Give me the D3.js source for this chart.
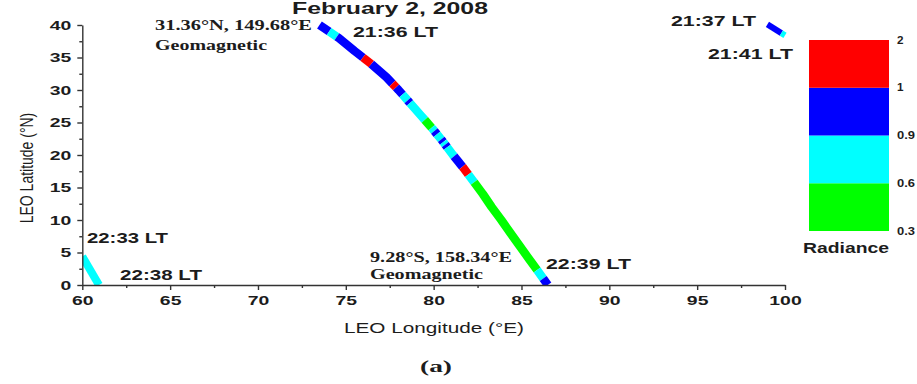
<!DOCTYPE html>
<html>
<head>
<meta charset="utf-8">
<script src="https://cdn.jsdelivr.net/npm/d3@7"></script>
<style>
  body { margin: 0; background: #fff; }
  svg { display: block; }
</style>
</head>
<body>
<svg id="chart" width="917" height="384"></svg>
<script>
// Main pass ground track: latitude (°N) and longitude (°E)
const trackLat = [40, 38, 36, 34, 32, 30, 28, 26, 24, 22, 20, 18, 16, 14, 12, 10, 8, 6, 4, 2, 0];
const trackLon = [73.5, 74.6, 75.5, 76.45, 77.3, 78.0, 78.65, 79.3, 79.95, 80.55, 81.1, 81.7, 82.25, 82.8, 83.3, 83.85, 84.37, 84.9, 85.43, 85.97, 86.5];

// Radiance along the main pass, one entry per latitude span
const segFrom = [40, 39.0, 38.2, 35.0, 34.0, 31.0, 30.4, 29.3, 28.4, 28.0, 25.4, 24.2, 23.7, 23.2, 22.4, 22.0, 21.6, 21.2, 19.8, 18.2, 17.0, 15.8, 2.3, 1.0];
const segTo   = [39.0, 38.2, 35.0, 34.0, 31.0, 30.4, 29.3, 28.4, 28.0, 25.4, 24.2, 23.7, 23.2, 22.4, 22.0, 21.6, 21.2, 19.8, 18.2, 17.0, 15.8, 2.3, 1.0, 0];
const segRad  = [0.95, 0.75, 0.95, 1.3, 0.95, 1.1, 0.95, 0.75, 0.95, 0.75, 0.45, 0.75, 0.95, 0.75, 0.95, 0.75, 0.95, 0.75, 0.95, 1.2, 0.75, 0.45, 0.75, 0.95];

// Short pass at the north-east corner
const eastLat = [40.1, 38.4];
const eastLon = [99.0, 100.0];
const eastFrom = [40.1, 38.75];
const eastTo   = [38.75, 38.4];
const eastRad  = [0.95, 0.75];

// Short pass at the south-west corner
const westLat = [4.4, 0];
const westLon = [60.0, 60.95];
const westFrom = [4.4];
const westTo   = [0];
const westRad  = [0.75];

// Axis ticks
const xTicks = [60, 65, 70, 75, 80, 85, 90, 95, 100];
const xMinor = [62.5, 67.5, 72.5, 77.5, 82.5, 87.5, 92.5, 97.5];
const yTicks = [0, 5, 10, 15, 20, 25, 30, 35, 40];
const yMinor = [2.5, 7.5, 12.5, 17.5, 22.5, 27.5, 32.5, 37.5];

// Colour classes of the radiance scale
const radBreaks = [0.3, 0.6, 0.9, 1, 2];
const radLabels = ["0.3", "0.6", "0.9", "1", "2"];
const radColors = ["#00ff00", "#00ffff", "#0000ff", "#ff0000"];

const svg = d3.select("#chart");
const x = d3.scaleLinear().domain([60, 100]).range([82.3, 785]);
const y = d3.scaleLinear().domain([0, 40]).range([285, 25]);
const color = d3.scaleThreshold().domain([0.6, 0.9, 1]).range(radColors);

const SANS = '"Liberation Sans", Arial, sans-serif';
const SERIF = '"Liberation Serif", "Times New Roman", serif';
const INK = "#1c1c1c";

function label(px, py, str, o) {
  const t = svg.append("text")
    .attr("x", px).attr("y", py)
    .attr("font-family", o.serif ? SERIF : SANS)
    .attr("font-weight", o.weight || "bold")
    .attr("font-size", o.size)
    .attr("fill", o.fill || INK)
    .attr("text-anchor", o.anchor || "start")
    .text(str);
  if (o.width) t.attr("textLength", o.width).attr("lengthAdjust", "spacingAndGlyphs");
  return t;
}

// Plot clip (cuts tracks at the axes)
svg.append("defs").append("clipPath").attr("id", "plotClip")
  .append("rect").attr("x", x(60)).attr("y", 0)
  .attr("width", x(100) - x(60) + 10).attr("height", y(0));

const tracks = svg.append("g").attr("clip-path", "url(#plotClip)");
const line = d3.line().x(d => x(d[0])).y(d => y(d[1]));

function drawPass(lats, lons, from, to, rad, width) {
  const lonAt = d3.scaleLinear().domain(lats).range(lons);
  from.forEach((a, i) => {
    const b = to[i];
    const lo = Math.min(a, b), hi = Math.max(a, b);
    const inner = lats.filter(l => l < hi && l > lo);
    const pts = [a, ...inner, b].map(l => [lonAt(l), l]);
    tracks.append("path")
      .attr("d", line(pts))
      .attr("fill", "none")
      .attr("stroke", color(rad[i]))
      .attr("stroke-width", width)
      .attr("stroke-linecap", "butt")
      .attr("stroke-linejoin", "round");
  });
}

drawPass(trackLat, trackLon, segFrom, segTo, segRad, 8.5);
drawPass(eastLat, eastLon, eastFrom, eastTo, eastRad, 6);
drawPass(westLat, westLon, westFrom, westTo, westRad, 8);

// Axes
const AX = "#333";
const gx = svg.append("g").attr("transform", `translate(0,${y(0)})`)
  .call(d3.axisBottom(x).tickValues(xTicks).tickSize(5).tickSizeOuter(0).tickPadding(5));
const gxm = svg.append("g").attr("transform", `translate(0,${y(0)})`)
  .call(d3.axisBottom(x).tickValues(xMinor).tickSize(3).tickFormat(""));
const gy = svg.append("g").attr("transform", `translate(${x(60)},0)`)
  .call(d3.axisLeft(y).tickValues(yTicks).tickSize(5).tickSizeOuter(0).tickPadding(6));
const gym = svg.append("g").attr("transform", `translate(${x(60)},0)`)
  .call(d3.axisLeft(y).tickValues(yMinor).tickSize(3).tickFormat(""));

[gxm, gym].forEach(g => g.select(".domain").remove());
[gx, gxm, gy, gym].forEach(g => {
  g.selectAll("path, line").attr("stroke", AX).attr("stroke-width", 1.4);
  g.selectAll("text")
    .attr("font-family", SANS).attr("font-weight", "bold")
    .attr("font-size", 13.5).attr("fill", INK)
    .each(function () {
      const s = d3.select(this).text();
      if (s) d3.select(this).attr("textLength", s.length * 10.8).attr("lengthAdjust", "spacingAndGlyphs");
    });
});

// Axis titles
label(434, 333, "LEO Longitude (°E)", { size: 14, weight: "normal", anchor: "middle", width: 180 });
svg.append("text")
  .attr("transform", "translate(33,168) scale(1.3,1) rotate(-90)")
  .attr("font-family", SANS).attr("font-size", 14).attr("fill", INK)
  .attr("text-anchor", "middle")
  .text("LEO Latitude (°N)");

// Title and panel letter
label(292, 14, "February 2, 2008", { size: 17, width: 196 });
label(436, 372, "(a)", { size: 16, serif: true, anchor: "middle", width: 32 });

// Local-time annotations
label(353, 37, "21:36 LT", { size: 15, width: 85 });
label(671, 26, "21:37 LT", { size: 15, width: 85 });
label(708, 59, "21:41 LT", { size: 15, width: 85 });
label(87, 243, "22:33 LT", { size: 15, width: 81 });
label(120, 280, "22:38 LT", { size: 15, width: 82 });
label(546, 269, "22:39 LT", { size: 15, width: 85 });

// Geomagnetic coordinate notes
label(155, 30, "31.36°N, 149.68°E", { size: 15, serif: true, width: 157 });
label(155, 50, "Geomagnetic", { size: 15, serif: true, width: 112 });
label(370, 262, "9.28°S, 158.34°E", { size: 15, serif: true, width: 142 });
label(370, 279, "Geomagnetic", { size: 15, serif: true, width: 113 });

// Radiance colour bar
const cbX = 809, cbW = 80;
const cbY = d3.scaleLinear().domain([0, radBreaks.length - 1]).range([231, 40]);
radColors.forEach((c, i) => {
  svg.append("rect")
    .attr("x", cbX).attr("y", cbY(i + 1))
    .attr("width", cbW).attr("height", cbY(i) - cbY(i + 1))
    .attr("fill", c);
});
radLabels.forEach((s, i) => {
  label(897, cbY(i) + 3.5, s, { size: 10, width: s.length === 1 ? 6.5 : 18 });
});
label(846, 253, "Radiance", { size: 14, anchor: "middle", width: 86 });
</script>
</body>
</html>
